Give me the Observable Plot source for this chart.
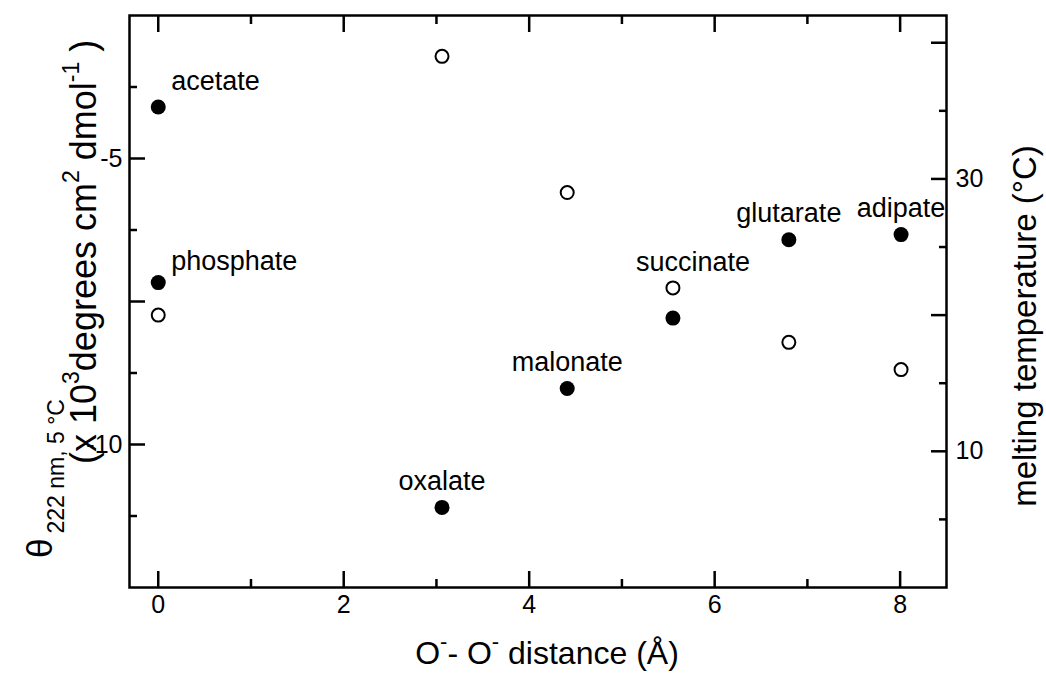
<!DOCTYPE html>
<html><head><meta charset="utf-8">
<script src="https://cdn.jsdelivr.net/npm/d3@7"></script>
<script src="https://cdn.jsdelivr.net/npm/@observablehq/plot@0.6"></script>
<style>body{margin:0;background:#fff} svg{display:block}</style>
</head><body><div id="chart"></div>
<script>
// ---- data ----
const anions      = ["acetate", "phosphate", "oxalate", "malonate", "succinate", "glutarate", "adipate"];
const distance    = [0, 0, 3.06, 4.41, 5.55, 6.80, 8.01];             // O- - O- distance (Å)
const theta222    = [-4.1, -7.17, -11.1, -9.02, -7.79, -6.42, -6.33]; // x10^3 deg cm2 dmol-1 (filled)
const meltingTemp = [null, 20.0, 39.0, 29.0, 22.0, 18.0, 16.0];      // °C (open)
const labelOn     = ["filled", "filled", "filled", "filled", "open", "filled", "filled"];

const xMajor = [0, 2, 4, 6, 8], xMinor = [1, 3, 5, 7];
const yMajor = [-5, -7.5, -10], yMinor = [-3.75, -6.25, -8.75, -11.25], yLabels = [-5, -10];
const tMajor = [10, 20, 30, 40], tMinor = [5, 15, 25, 35], tLabels = [10, 30];

// ---- style / layout ----
const yDomain = [-12.5, -2.5], tDomain = [0, 42];
const tToY = t => yDomain[0] + (t - tDomain[0]) * (yDomain[1] - yDomain[0]) / (tDomain[1] - tDomain[0]);
const yToT = v => tDomain[0] + (v - yDomain[0]) * (tDomain[1] - tDomain[0]) / (yDomain[1] - yDomain[0]);
const labelNudge = {succinate: [20, 0], phosphate: [0, 5]};

const rows = anions.map((a, i) => ({anion: a, x: distance[i], cd: theta222[i], tm: meltingTemp[i], on: labelOn[i]}));
const openRows = rows.filter(d => d.tm != null);
rows.forEach(d => d.ly = d.on === "open" ? tToY(d.tm) : d.cd);

const FONT = "'Liberation Sans', Arial, Helvetica, sans-serif";
const W = 2.5, TICK = 25, LAB = 27, TITLE = 32, YTITLE = 35, SUB = 23;

const svg = Plot.plot({
  width: 1046, height: 673,
  marginLeft: 129, marginRight: 100, marginTop: 15, marginBottom: 86,
  style: {fontFamily: FONT, fontSize: TICK + "px", color: "black", background: "white"},
  x: {domain: [-0.31, 8.5]},
  y: {domain: yDomain},
  marks: [
    // bottom
    Plot.axisX(xMajor, {anchor: "bottom", tickSize: -16, strokeWidth: W, fill: "none", label: null}),
    Plot.axisX(xMinor, {anchor: "bottom", tickSize: -8, strokeWidth: W, fill: "none", label: null}),
    Plot.axisX(xMajor, {anchor: "bottom", tickSize: 0, tickPadding: 8, label: null}),
    // top
    Plot.axisX(xMajor, {anchor: "top", tickSize: -16, strokeWidth: W, fill: "none", label: null}),
    Plot.axisX(xMinor, {anchor: "top", tickSize: -8, strokeWidth: W, fill: "none", label: null}),
    // left
    Plot.axisY(yMajor, {anchor: "left", tickSize: -16, strokeWidth: W, fill: "none", label: null}),
    Plot.axisY(yMinor, {anchor: "left", tickSize: -8, strokeWidth: W, fill: "none", label: null}),
    Plot.axisY(yLabels, {anchor: "left", tickSize: 0, tickPadding: 7, label: null, tickFormat: d => String(d)}),
    // right (melting temperature)
    Plot.axisY(tMajor.map(tToY), {anchor: "right", tickSize: -16, strokeWidth: W, fill: "none", label: null}),
    Plot.axisY(tMinor.map(tToY), {anchor: "right", tickSize: -8, strokeWidth: W, fill: "none", label: null}),
    Plot.axisY(tLabels.map(tToY), {anchor: "right", tickSize: 0, tickPadding: 9, label: null,
      tickFormat: v => String(Math.round(yToT(v)))}),
    Plot.frame({strokeWidth: W}),
    // points
    Plot.dot(openRows, {x: "x", y: d => tToY(d.tm), r: 6.5, fill: "white", stroke: "black", strokeWidth: 2}),
    Plot.dot(rows, {x: "x", y: "cd", r: 7.5, fill: "black", stroke: "none"}),
    // labels
    Plot.text(rows.filter(d => d.x === 0), {x: "x", y: "ly", text: "anion", textAnchor: "start", dx: 13,
      dy: -26, fontSize: LAB}),
    Plot.text(rows.filter(d => d.x !== 0), {x: "x", y: "ly", text: "anion", textAnchor: "middle",
      dy: -26, fontSize: LAB})
  ]
});

// apply label nudges
d3.select(svg).selectAll("text").filter(function() { return labelNudge[this.textContent]; })
  .each(function() {
    const [nx, ny] = labelNudge[this.textContent];
    const t = this.getAttribute("transform") || "";
    this.setAttribute("transform", t + ` translate(${nx},${ny})`);
  });

const s = d3.select(svg);
const g = s.append("g").attr("font-family", FONT).attr("fill", "black").attr("text-anchor", "start");
// left title, line 1
const t1 = g.append("text").attr("transform", "translate(52,558) rotate(-90)").attr("font-size", YTITLE);
t1.append("tspan").text("θ");
t1.append("tspan").attr("font-size", SUB).attr("dy", 12).attr("dx", 5).text("222 nm, 5 °C");
// left title, line 2
const t2 = g.append("text").attr("transform", "translate(96,464) rotate(-90)").attr("font-size", 36);
t2.append("tspan").text("(x 10");
t2.append("tspan").attr("font-size", SUB).attr("dy", -17).text("3");
t2.append("tspan").attr("dy", 17).text("degrees cm");
t2.append("tspan").attr("font-size", SUB).attr("dy", -17).text("2");
t2.append("tspan").attr("dy", 17).text(" dmol");
t2.append("tspan").attr("font-size", SUB).attr("dy", -17).text("-1");
t2.append("tspan").attr("dy", 17).text(" )");
// right title
g.append("text").attr("transform", "translate(1036,326) rotate(-90)").attr("font-size", 33)
  .attr("text-anchor", "middle").text("melting temperature (°C)");
// bottom title
const t3 = g.append("text").attr("x", 547).attr("y", 664).attr("font-size", TITLE).attr("text-anchor", "middle");
t3.append("tspan").text("O");
t3.append("tspan").attr("font-size", 22).attr("dy", -15).text("-");
t3.append("tspan").attr("dy", 15).text("- O");
t3.append("tspan").attr("font-size", 22).attr("dy", -15).text("-");
t3.append("tspan").attr("dy", 15).text(" distance (Å)");

document.getElementById("chart").appendChild(svg);
</script>
</body></html>
